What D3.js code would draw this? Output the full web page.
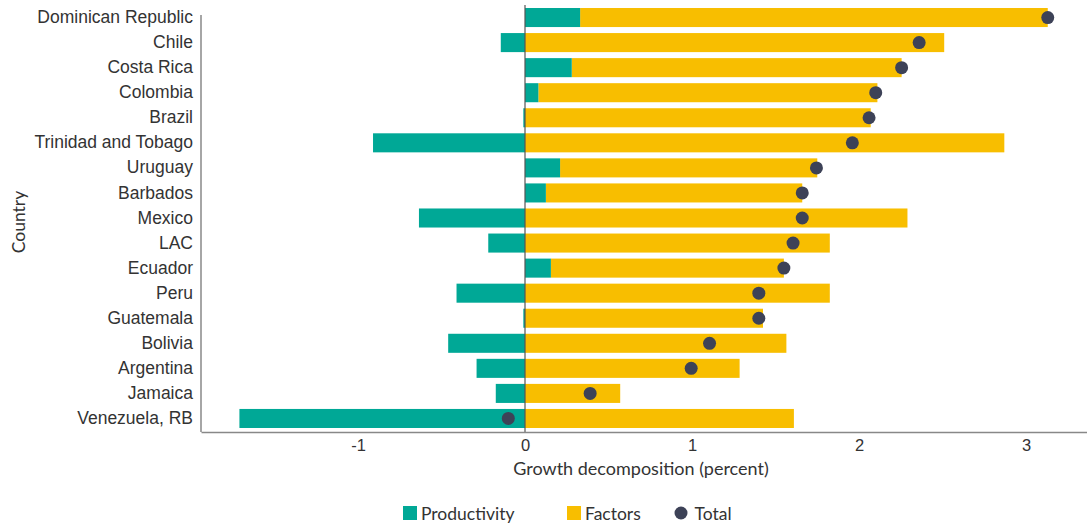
<!DOCTYPE html>
<html>
<head>
<meta charset="utf-8">
<script src="https://cdn.jsdelivr.net/npm/d3@7"></script>
<style>
  body { margin: 0; background: #fff; }
  svg { display: block; font-family: "Source Sans Pro", Lato, sans-serif; }
  .tick text { fill: #333; }
</style>
</head>
<body>
<svg width="1087" height="525"></svg>
<script>
// data
var countries = ["Dominican Republic", "Chile", "Costa Rica", "Colombia", "Brazil",
  "Trinidad and Tobago", "Uruguay", "Barbados", "Mexico", "LAC", "Ecuador", "Peru",
  "Guatemala", "Bolivia", "Argentina", "Jamaica", "Venezuela, RB"];
var productivity = [0.33, -0.145, 0.28, 0.08, -0.01, -0.91, 0.21, 0.125, -0.635, -0.22,
  0.155, -0.41, -0.01, -0.46, -0.29, -0.175, -1.71];
var factors = [2.80, 2.51, 1.975, 2.03, 2.07, 2.87, 1.54, 1.535, 2.29, 1.825,
  1.395, 1.825, 1.425, 1.565, 1.285, 0.57, 1.61];
var total = [3.13, 2.36, 2.255, 2.10, 2.06, 1.96, 1.745, 1.66, 1.66, 1.605,
  1.55, 1.40, 1.40, 1.105, 0.995, 0.39, -0.10];
var xTicks = [-1, 0, 1, 2, 3];

var colProd = "#00a896", colFac = "#f8be00", colTot = "#3d4257";

var svg = d3.select("svg");
var mLeft = 201, mRight = 1087, mTop = 5, mBottom = 432;

var x = d3.scaleLinear().domain([-1.94, 3.365]).range([mLeft, mRight]);
var y = d3.scaleBand().domain(countries).range([mTop, 431])
  .paddingInner(0.24).paddingOuter(0.12);

var rows = countries.map(function(c, i) {
  return { c: c, p: productivity[i], f: factors[i], t: total[i] };
});

// factors bars (stacked on positive productivity)
svg.selectAll(".fac").data(rows).enter().append("rect")
  .attr("class", "fac")
  .attr("x", function(d) { return x(Math.max(0, d.p)); })
  .attr("y", function(d) { return y(d.c); })
  .attr("width", function(d) { return x(Math.max(0, d.p) + d.f) - x(Math.max(0, d.p)); })
  .attr("height", y.bandwidth())
  .attr("fill", colFac);

svg.selectAll(".prod").data(rows).enter().append("rect")
  .attr("class", "prod")
  .attr("x", function(d) { return x(Math.min(0, d.p)); })
  .attr("y", function(d) { return y(d.c); })
  .attr("width", function(d) { return Math.abs(x(d.p) - x(0)); })
  .attr("height", y.bandwidth())
  .attr("fill", colProd);

// zero line
svg.append("line")
  .attr("x1", x(0)).attr("x2", x(0))
  .attr("y1", mTop).attr("y2", mBottom)
  .attr("stroke", "#555").attr("stroke-width", 1.2);

svg.selectAll(".tot").data(rows).enter().append("circle")
  .attr("class", "tot")
  .attr("cx", function(d) { return x(d.t); })
  .attr("cy", function(d) { return y(d.c) + y.bandwidth() / 2; })
  .attr("r", 6.5)
  .attr("fill", colTot);

// axes
var xAxis = svg.append("g")
  .attr("transform", "translate(0," + mBottom + ")")
  .call(d3.axisBottom(x).tickValues(xTicks).tickSize(0).tickPadding(7)
    .tickFormat(function(d) { return String(d); }));
xAxis.select(".domain").attr("stroke", "#888").attr("stroke-width", 1.5);
xAxis.selectAll("text").attr("font-size", 16.5).attr("font-family", null);

var yAxis = svg.append("g")
  .attr("transform", "translate(" + mLeft + ",0)")
  .call(d3.axisLeft(y).tickSize(0).tickPadding(8));
yAxis.select(".domain").remove();
yAxis.selectAll("text").attr("font-size", 17.5).attr("font-family", null);
svg.append("line")
  .attr("x1", mLeft).attr("x2", mLeft).attr("y1", 15).attr("y2", mBottom)
  .attr("stroke", "#888").attr("stroke-width", 1.5);

svg.append("text")
  .attr("x", 641).attr("y", 475)
  .attr("text-anchor", "middle").attr("font-size", 18).attr("fill", "#333")
  .text("Growth decomposition (percent)");

svg.append("text")
  .attr("transform", "translate(25,222) rotate(-90)")
  .attr("text-anchor", "middle").attr("font-size", 17.5).attr("fill", "#333")
  .text("Country");

// legend
var legend = [
  { name: "Productivity", color: colProd, x: 403, shape: "rect" },
  { name: "Factors", color: colFac, x: 567, shape: "rect" },
  { name: "Total", color: colTot, x: 674.5, shape: "circle" }
];
var lg = svg.selectAll(".lg").data(legend).enter().append("g").attr("class", "lg");
lg.filter(function(d) { return d.shape == "rect"; }).append("rect")
  .attr("x", function(d) { return d.x; }).attr("y", 506)
  .attr("width", 14).attr("height", 14).attr("fill", function(d) { return d.color; });
lg.filter(function(d) { return d.shape == "circle"; }).append("circle")
  .attr("cx", function(d) { return d.x + 6.5; }).attr("cy", 513)
  .attr("r", 6.5).attr("fill", function(d) { return d.color; });
lg.append("text")
  .attr("x", function(d) { return d.x + (d.shape == "rect" ? 18 : 20); })
  .attr("y", 520)
  .attr("font-size", 17.5).attr("fill", "#333")
  .text(function(d) { return d.name; });
</script>
</body>
</html>
